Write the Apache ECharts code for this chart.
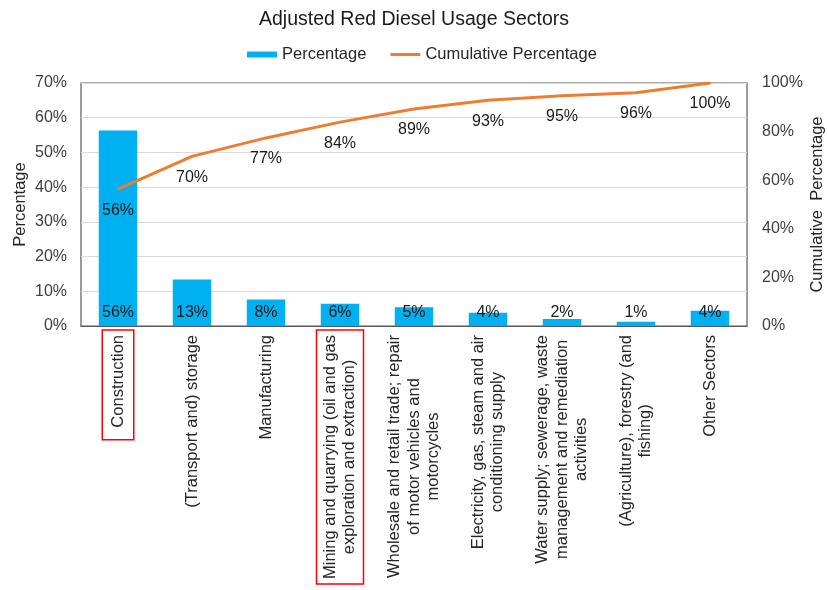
<!DOCTYPE html>
<html>
<head>
<meta charset="utf-8">
<script src="https://cdn.jsdelivr.net/npm/echarts@6/dist/echarts.min.js"></script>
<style>
html,body{margin:0;padding:0;background:#fff;}
#chart{width:828px;height:590px;}
</style>
</head>
<body>
<div id="chart"></div>
<script>
const titleText = 'Adjusted Red Diesel Usage Sectors';
const categories = [
  'Construction',
  '(Transport and) storage',
  'Manufacturing',
  'Mining and quarrying (oil and gas\nexploration and extraction)',
  'Wholesale and retail trade; repair\nof motor vehicles and\nmotorcycles',
  'Electricity, gas, steam and air\nconditioning supply',
  'Water supply; sewerage, waste\nmanagement and remediation\nactivities',
  '(Agriculture), forestry (and\nfishing)',
  'Other Sectors'
];
const percentage = [56.3, 13.4, 7.6, 6.4, 5.4, 3.8, 2.0, 1.2, 4.4];
const cumulative = [56.3, 69.8, 77.4, 83.9, 89.3, 92.9, 94.8, 96.0, 100];
const highlighted = {
  'Construction': [6, 5, 6, 12],
  'Mining and quarrying (oil and gas\nexploration and extraction)': [4, 5, 4, 5]
};
const leftTicks = {min: 0, max: 70, interval: 10};
const rightTicks = {min: 0, max: 100, interval: 20};

const FONT = '"Liberation Sans", Arial, sans-serif';
const chart = echarts.init(document.getElementById('chart'));

const catData = categories.map(c => {
  if (highlighted[c]) {
    return {value: c, textStyle: {borderColor: '#FF0000', borderWidth: 1.5, padding: highlighted[c]}};
  }
  return c;
});

chart.setOption({
  animation: false,
  backgroundColor: '#fff',
  title: {
    text: titleText, left: 'center', top: 5,
    textStyle: {fontFamily: FONT, fontSize: 19.5, fontWeight: 'normal', color: '#1a1a1a'}
  },
  legend: {
    top: 41, left: 242, itemGap: 24, itemWidth: 30, itemHeight: 6,
    textStyle: {fontFamily: FONT, fontSize: 16.5, color: '#262626'},
    data: [
      {name: 'Percentage', icon: 'rect', itemStyle: {color: '#00B0F0'}},
      {name: 'Cumulative Percentage', icon: 'path://M0,0H30V3H0Z', itemStyle: {color: '#ED7D31', opacity: 1}}
    ]
  },
  grid: {
    left: 81, right: 81, top: 83, bottom: 264,
    outerBoundsMode: 'none', containLabel: false,
    show: true, borderColor: '#595959', borderWidth: 1.2, backgroundColor: 'transparent'
  },
  xAxis: {
    type: 'category', data: catData,
    axisTick: {show: false},
    axisLine: {lineStyle: {color: '#595959', width: 1.2}},
    axisLabel: {
      interval: 0, rotate: 90, margin: 4, padding: [0, 5, 0, 0],
      fontFamily: FONT, fontSize: 16.5, color: '#262626', lineHeight: 19.5,
      formatter: v => v.split('\n').map(l => '{a|' + l + '}').join('\n'),
      rich: {a: {align: 'center', fontFamily: FONT, fontSize: 16.5, color: '#262626', lineHeight: 19.5}}
    }
  },
  yAxis: [
    {
      type: 'value', min: leftTicks.min, max: leftTicks.max, interval: leftTicks.interval,
      name: 'Percentage', nameLocation: 'middle', nameGap: 52, nameRotate: 90, nameMoveOverlap: false,
      nameTextStyle: {fontFamily: FONT, fontSize: 16.5, color: '#262626'},
      axisLine: {show: false}, axisTick: {show: false},
      axisLabel: {formatter: '{value}%', margin: 14, fontFamily: FONT, fontSize: 16, color: '#404040'},
      splitLine: {lineStyle: {color: '#d9d9d9', width: 1.2}}
    },
    {
      type: 'value', min: rightTicks.min, max: rightTicks.max, interval: rightTicks.interval,
      name: 'Cumulative  Percentage', nameLocation: 'middle', nameGap: 62, nameRotate: 90, nameMoveOverlap: false,
      nameTextStyle: {fontFamily: FONT, fontSize: 16.5, color: '#262626'},
      axisLine: {show: false}, axisTick: {show: false},
      axisLabel: {formatter: '{value}%', margin: 15, fontFamily: FONT, fontSize: 16, color: '#404040'},
      splitLine: {show: false}
    }
  ],
  series: [
    {
      name: 'Percentage', type: 'bar', data: percentage, barWidth: '52%',
      itemStyle: {color: '#00B0F0'},
      label: {show: true, position: 'insideBottom', distance: 5,
        formatter: p => Math.round(p.value) + '%',
        fontFamily: FONT, fontSize: 16, color: '#1a1a1a'}
    },
    {
      name: 'Cumulative Percentage', type: 'line', yAxisIndex: 1, data: cumulative,
      symbol: 'circle', symbolSize: 2, showSymbol: true, showAllSymbol: true,
      lineStyle: {color: '#ED7D31', width: 3}, itemStyle: {color: '#ED7D31'},
      label: {show: true, position: 'bottom', distance: 12,
        formatter: p => Math.round(p.value) + '%',
        fontFamily: FONT, fontSize: 16, color: '#1a1a1a'},
      z: 3
    }
  ]
});
</script>
</body>
</html>
